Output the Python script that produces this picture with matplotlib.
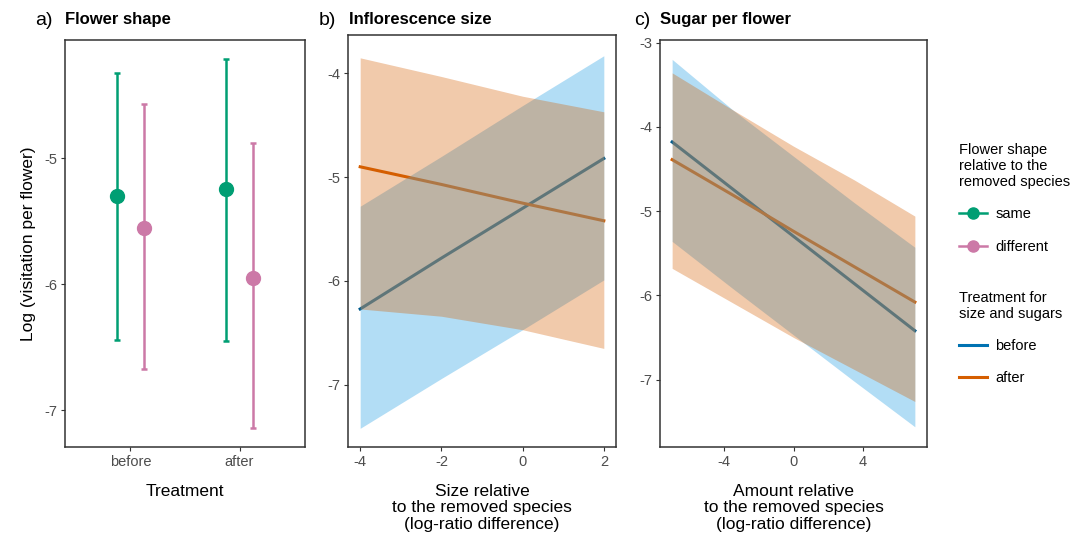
import numpy as np
import matplotlib
matplotlib.use("Agg")
import matplotlib.pyplot as plt
from matplotlib.lines import Line2D

plt.rcParams['font.family'] = ['Liberation Sans', 'DejaVu Sans']
plt.rcParams['axes.unicode_minus'] = False

# panel a: flower shape, mean and interval per treatment
treatments = ['before', 'after']
same_mean = [-5.30, -5.24]
same_lo = [-6.44, -6.45]
same_hi = [-4.32, -4.21]
diff_mean = [-5.55, -5.95]
diff_lo = [-6.67, -7.14]
diff_hi = [-4.57, -4.88]

# panel b: inflorescence size
size_x = [-4, -2, 0, 2]
size_before_fit = [-6.27, -5.78, -5.30, -4.82]
size_before_lo = [-7.42, -6.94, -6.47, -5.99]
size_before_hi = [-5.28, -4.80, -4.31, -3.83]
size_after_fit = [-4.90, -5.07, -5.25, -5.42]
size_after_lo = [-6.27, -6.34, -6.47, -6.65]
size_after_hi = [-3.85, -4.03, -4.22, -4.37]

# panel c: sugar per flower
sugar_x = [-7, -3.5, 0, 3.5, 7]
sugar_before_fit = [-4.18, -4.74, -5.30, -5.86, -6.42]
sugar_before_lo = [-5.36, -5.92, -6.47, -7.02, -7.56]
sugar_before_hi = [-3.20, -3.80, -4.35, -4.90, -5.43]
sugar_after_fit = [-4.39, -4.81, -5.24, -5.66, -6.08]
sugar_after_lo = [-5.68, -6.09, -6.50, -6.88, -7.26]
sugar_after_hi = [-3.36, -3.80, -4.23, -4.63, -5.06]

GREEN = '#009E73'
PINK = '#CC79A7'
BLUE = '#0072B2'
BLUE_LINE = '#005A8C'
BLUE_FILL = '#56B4E9'
ORANGE = '#D55E00'
TICK_C = '#4D4D4D'
W, H = 1077, 535


def px_axes(fig, left, top, right, bottom):
    return fig.add_axes([left / W, 1 - bottom / H, (right - left) / W, (bottom - top) / H])


def style(ax):
    for s in ax.spines.values():
        s.set_color('#333333')
        s.set_linewidth(1.1)
    ax.tick_params(length=3, width=0.8, color='#333333', labelcolor=TICK_C,
                   labelsize=10.5, pad=2.5)


fig = plt.figure(figsize=(W / 100, H / 100), dpi=100)

ax_a = px_axes(fig, 65, 40, 305, 447)
ax_b = px_axes(fig, 348, 35, 616, 447)
ax_c = px_axes(fig, 660, 40, 927, 447)

# ---- panel a
pos = np.arange(1, len(treatments) + 1)
for offs, mean, lo, hi, col in [(-0.125, same_mean, same_lo, same_hi, GREEN),
                                (0.125, diff_mean, diff_lo, diff_hi, PINK)]:
    mean = np.array(mean)
    yerr = [mean - np.array(lo), np.array(hi) - mean]
    ax_a.errorbar(pos + offs, mean, yerr=yerr, fmt='o', color=col, ms=10,
                  elinewidth=1.8, capsize=2.5, capthick=1.8)
ax_a.set_xlim(0.4, 2.6)
ax_a.set_ylim(-7.29, -4.06)
ax_a.set_xticks(pos)
ax_a.set_xticklabels(treatments)
ax_a.set_yticks([-7, -6, -5])
ax_a.set_ylabel('Log (visitation per flower)', fontsize=12.5, labelpad=6)
style(ax_a)

# ---- panel b
ax_b.plot(size_x, size_before_fit, color=BLUE_LINE, lw=2.2, zorder=1)
ax_b.plot(size_x, size_after_fit, color=ORANGE, lw=2.2, zorder=1)
ax_b.fill_between(size_x, size_before_lo, size_before_hi, color=BLUE_FILL, alpha=0.45, lw=0, zorder=2)
ax_b.fill_between(size_x, size_after_lo, size_after_hi, color=ORANGE, alpha=0.33, lw=0, zorder=3)
ax_b.set_xlim(-4.3, 2.3)
ax_b.set_ylim(-7.60, -3.63)
ax_b.set_xticks([-4, -2, 0, 2])
ax_b.set_yticks([-7, -6, -5, -4])
style(ax_b)

# ---- panel c
ax_c.plot(sugar_x, sugar_before_fit, color=BLUE_LINE, lw=2.2, zorder=1)
ax_c.plot(sugar_x, sugar_after_fit, color=ORANGE, lw=2.2, zorder=1)
ax_c.fill_between(sugar_x, sugar_before_lo, sugar_before_hi, color=BLUE_FILL, alpha=0.45, lw=0, zorder=2)
ax_c.fill_between(sugar_x, sugar_after_lo, sugar_after_hi, color=ORANGE, alpha=0.33, lw=0, zorder=3)
ax_c.set_xlim(-7.7, 7.7)
ax_c.set_ylim(-7.80, -2.97)
ax_c.set_xticks([-4, 0, 4])
ax_c.set_yticks([-7, -6, -5, -4, -3])
style(ax_c)

# titles
for tag, tx, title, ttx in [('a)', 35, 'Flower shape', 65),
                            ('b)', 319, 'Inflorescence size', 349),
                            ('c)', 634, 'Sugar per flower', 660)]:
    fig.text(tx / W, 1 - 25 / H, tag, fontsize=14, va='baseline', ha='left')
    fig.text(ttx / W, 1 - 24 / H, title, fontsize=12, fontweight='bold', va='baseline', ha='left')

# x axis titles
fig.text((65 + 305) / 2 / W, 1 - 484 / H, 'Treatment', fontsize=12.5, ha='center', va='top')
fig.text((348 + 616) / 2 / W, 1 - 484 / H,
         'Size relative\nto the removed species\n(log-ratio difference)',
         fontsize=12.5, ha='center', va='top', linespacing=1.12)
fig.text((660 + 927) / 2 / W, 1 - 484 / H,
         'Amount relative\nto the removed species\n(log-ratio difference)',
         fontsize=12.5, ha='center', va='top', linespacing=1.12)

# legends
h1 = [Line2D([], [], color=GREEN, marker='o', ms=8, lw=1.8),
      Line2D([], [], color=PINK, marker='o', ms=8, lw=1.8)]
leg1 = fig.legend(h1, ['same', 'different'], title='Flower shape\nrelative to the\nremoved species',
                  loc='upper left', bbox_to_anchor=(953 / W, 1 - 137 / H), frameon=False,
                  fontsize=10.5, title_fontsize=10.5, alignment='left', handlelength=1.9,
                  handletextpad=0.6, labelspacing=1.25, borderaxespad=0)
h2 = [Line2D([], [], color=BLUE, lw=2.2), Line2D([], [], color=ORANGE, lw=2.2)]
leg2 = fig.legend(h2, ['before', 'after'], title='Treatment for\nsize and sugars',
                  loc='upper left', bbox_to_anchor=(953 / W, 1 - 285 / H), frameon=False,
                  fontsize=10.5, title_fontsize=10.5, alignment='left', handlelength=1.9,
                  handletextpad=0.6, labelspacing=1.25, borderaxespad=0)
for lg in (leg1, leg2):
    lg.get_title().set_linespacing(1.2)

fig.savefig('out.png', dpi=100)
